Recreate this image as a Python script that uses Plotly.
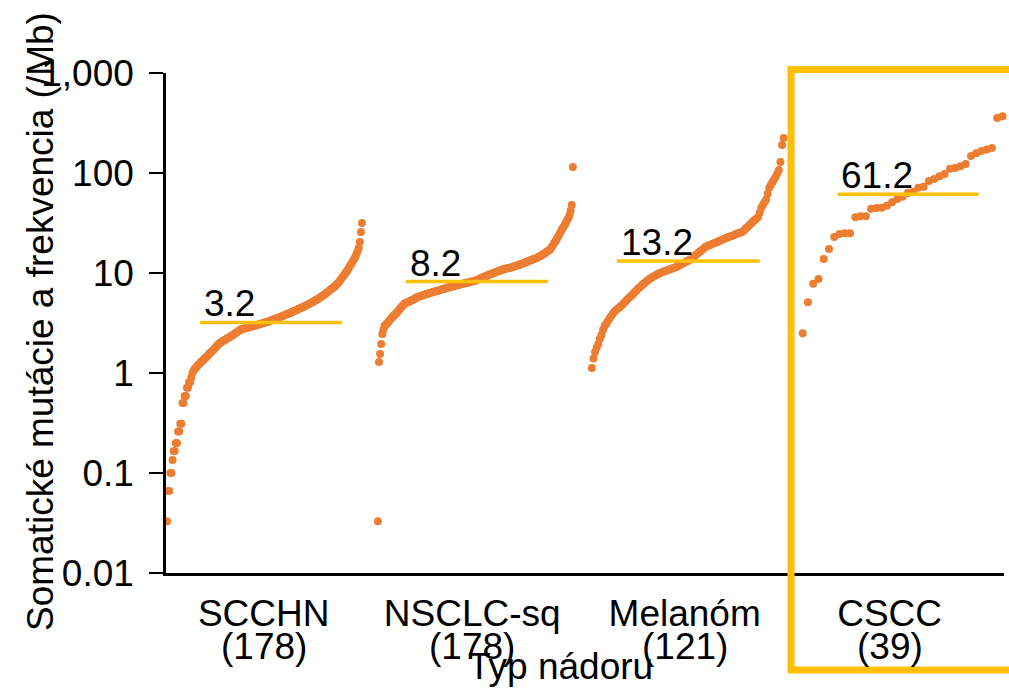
import numpy as np
import plotly.graph_objects as go

# ---------------- data ----------------
categories = ["SCCHN", "NSCLC-sq", "Melanóm", "CSCC"]
medians = [3.2, 8.2, 13.2, 61.2]

scchn = [0.033, 0.066, 0.066, 0.1, 0.1, 0.135, 0.166, 0.166, 0.2, 0.2, 0.26, 0.26,
         0.31, 0.31, 0.5, 0.5, 0.59, 0.59, 0.71, 0.71, 0.81, 0.81, 0.9, 1.0,
         1.05, 1.1, 1.12, 1.15, 1.2, 1.22, 1.25, 1.3, 1.32, 1.35, 1.4, 1.42, 1.45,
         1.5, 1.55, 1.58, 1.62, 1.66, 1.7, 1.75, 1.8, 1.85, 1.9, 1.95, 2.0,
         2.03, 2.06, 2.1, 2.12, 2.15, 2.2, 2.22, 2.25, 2.3, 2.33, 2.36, 2.4, 2.45,
         2.5, 2.54, 2.58, 2.62, 2.7,
         2.72, 2.74, 2.76, 2.78, 2.8, 2.82, 2.84, 2.86, 2.88, 2.9, 2.92, 2.94, 2.96,
         2.98, 3.0, 3.02, 3.05, 3.08, 3.1, 3.12, 3.15, 3.18, 3.2,
         3.22, 3.25, 3.28, 3.3, 3.33, 3.36, 3.4, 3.43, 3.46, 3.5, 3.53, 3.56, 3.6,
         3.64, 3.68, 3.72, 3.76, 3.8, 3.84, 3.88, 3.92, 3.96, 4.0,
         4.05, 4.1, 4.15, 4.2, 4.25, 4.3, 4.35, 4.4, 4.45, 4.5, 4.55, 4.6, 4.66, 4.72, 4.8,
         4.85, 4.9, 4.98, 5.05, 5.1, 5.2, 5.28, 5.35, 5.42, 5.5, 5.6, 5.7, 5.8, 5.9, 6.0,
         6.1, 6.2, 6.35, 6.5, 6.6, 6.75, 6.9, 7.0, 7.15, 7.3, 7.5, 7.7, 7.9,
         8.1, 8.4, 8.7, 9.0, 9.3, 9.6, 10.0, 10.3, 10.7,
         11.2, 11.7, 12.2, 12.7, 13.3, 13.9, 14.5,
         15.5, 16.5, 17.8, 20.4, 25.7, 31.6]

nsclc_sq = [0.033, 1.29, 1.55, 1.95, 2.45, 2.7, 2.95, 3.0, 3.1, 3.2, 3.3, 3.4, 3.5, 3.6,
            3.7, 3.8, 3.9, 4.0, 4.1, 4.25, 4.4, 4.5, 4.65, 4.8,
            4.9, 5.0, 5.05, 5.1, 5.15, 5.2, 5.3, 5.35, 5.4, 5.5, 5.6, 5.65, 5.75,
            5.8, 5.85, 5.9, 5.95, 6.0, 6.05, 6.1, 6.15, 6.2, 6.25, 6.3, 6.35, 6.4, 6.45,
            6.5, 6.55, 6.6, 6.65, 6.7, 6.75, 6.8, 6.85, 6.9, 6.95, 7.0, 7.05, 7.1,
            7.15, 7.2, 7.25, 7.3, 7.35, 7.4, 7.45, 7.5, 7.55, 7.6, 7.65, 7.7, 7.75, 7.8,
            7.85, 7.9, 7.95, 8.0, 8.05, 8.1, 8.15, 8.2, 8.25, 8.3, 8.35, 8.4, 8.5,
            8.6, 8.7, 8.8, 8.9, 9.0, 9.1, 9.2, 9.3, 9.4, 9.5, 9.6, 9.7, 9.8, 9.9, 10.0,
            10.1, 10.2, 10.3, 10.4, 10.5, 10.6, 10.7, 10.8, 10.9, 11.0, 11.05, 11.1,
            11.15, 11.2, 11.25,
            11.35, 11.45, 11.55, 11.65, 11.75, 11.85, 11.95, 12.05, 12.15, 12.3, 12.4,
            12.5, 12.6, 12.75, 12.9, 13.0, 13.15, 13.3, 13.4, 13.55, 13.7, 13.85, 14.0, 14.1,
            14.3, 14.5, 14.7, 14.9, 15.1, 15.4, 15.6, 15.9, 16.2, 16.5, 16.8, 17.0,
            17.6, 18.3, 19.0, 19.8, 20.6, 21.4,
            22.5, 23.5, 24.5, 25.8, 27.0,
            28.3, 29.5, 30.8, 32.3, 33.8, 35.5,
            38.0, 42.0, 48.0, 115.0]

melanom = [1.12, 1.4, 1.62, 1.8, 1.95, 2.2, 2.4, 2.7, 2.95, 3.1, 3.3, 3.5, 3.7, 3.9,
           4.1, 4.25, 4.4, 4.5, 4.65, 4.8, 5.0, 5.2, 5.4, 5.6, 5.8, 6.0, 6.2, 6.5, 6.7,
           7.0, 7.2, 7.45, 7.7, 7.95, 8.2, 8.45, 8.7, 8.9, 9.1, 9.3, 9.5, 9.7, 9.9,
           10.05, 10.2, 10.35, 10.5, 10.6, 10.75, 10.9, 11.05, 11.2, 11.35, 11.5, 11.75,
           12.0, 12.25, 12.5, 12.75, 13.0, 13.2, 13.5, 13.8, 14.1, 14.6, 15.1, 15.6,
           16.1, 16.6, 17.1, 17.6, 18.2, 18.5, 18.8, 19.1, 19.4, 19.7, 20.0, 20.3,
           20.6, 21.0, 21.4, 21.7, 22.0, 22.4, 22.7, 23.0, 23.3, 23.6, 24.0, 24.4,
           24.8, 25.1, 25.4, 25.7, 26.5, 27.5, 28.5, 29.5, 30.5, 31.6, 33.0, 34.0,
           35.0, 36.0, 40.0, 45.0, 48.0, 51.0, 54.0, 62.0, 71.0, 76.0, 81.0, 86.0,
           91.0, 99.0, 107.0, 129.0, 190.0, 224.0]

cscc = [2.5, 5.1, 7.8, 8.7, 13.8, 17.4, 22.9, 24.5, 25.0, 25.0, 36.0, 37.0, 37.0,
        44.0, 44.7, 45.0, 47.0, 51.0, 55.0, 58.0, 63.0, 65.0, 71.0, 73.0, 83.0, 87.0,
        93.0, 98.0, 110.0, 112.0, 117.0, 123.0, 148.0, 158.0, 166.0, 172.0, 178.0,
        355.0, 370.0]

series = [scchn, nsclc_sq, melanom, cscc]

y_tickvals = [0.01, 0.1, 1, 10, 100, 1000]
y_ticktext = ["0.01", "0.1", "1", "10", "100", "1,000"]

# ---------------- layout constants ----------------
FONT = "Arial, Liberation Sans, sans-serif"
FS = 37
DOT = "#ED7D31"
GOLD = "#FFC000"
GROUP_START = [0.0, 0.995, 2.005, 3.0]
GROUP_SPAN = [0.92, 0.92, 0.905, 0.943]
MED_X = [(0.156, 0.825), (1.127, 1.797), (2.123, 2.797), (3.165, 3.830)]
LABEL_X = [0.456, 1.44, 2.443, 3.41]

L, R, T, B = 166, 5, 73, 117
W, H = 1009, 690
PW, PH = W - L - R, H - T - B


def px_to_paper_x(px):
    return (px - L) / PW


def px_to_paper_y(py):
    return (H - B - py) / PH


fig = go.Figure()

for g, vals in enumerate(series):
    n = len(vals)
    xs = GROUP_START[g] + np.linspace(0, GROUP_SPAN[g], n)
    fig.add_trace(go.Scatter(x=xs, y=vals, mode="markers",
                             marker=dict(color=DOT, size=8, line=dict(width=0)),
                             showlegend=False, hoverinfo="y", cliponaxis=False))

for g, m in enumerate(medians):
    x0, x1 = MED_X[g]
    fig.add_trace(go.Scatter(x=[x0, x1], y=[m, m], mode="lines",
                             line=dict(color=GOLD, width=3.5),
                             showlegend=False, hoverinfo="skip"))
    fig.add_annotation(x=x0 + 0.008, y=np.log10(m), xref="x", yref="y",
                       text=f"{m}", showarrow=False, xanchor="left", yanchor="bottom",
                       yshift=-4, font=dict(family=FONT, size=FS, color="black"))

for g, vals in enumerate(series):
    fig.add_annotation(x=LABEL_X[g], y=px_to_paper_y(646), xref="x", yref="paper",
                       text=f"({len(vals)})", showarrow=False, xanchor="center",
                       yanchor="middle", font=dict(family=FONT, size=FS, color="black"))

# axis titles
fig.add_annotation(x=px_to_paper_x(560), y=px_to_paper_y(666), xref="paper", yref="paper",
                   text="Typ nádoru", showarrow=False, xanchor="center", yanchor="middle",
                   font=dict(family=FONT, size=FS, color="black"))
fig.add_annotation(x=px_to_paper_x(40), y=px_to_paper_y(322), xref="paper", yref="paper",
                   text="Somatické mutácie a frekvencia (/Mb)", textangle=-90,
                   showarrow=False, xanchor="center", yanchor="middle",
                   font=dict(family=FONT, size=FS, color="black"))

# highlight box around CSCC
fig.add_shape(type="rect", xref="paper", yref="paper",
              x0=px_to_paper_x(791), x1=px_to_paper_x(1040),
              y0=px_to_paper_y(670), y1=px_to_paper_y(69.5),
              line=dict(color=GOLD, width=7), fillcolor="rgba(0,0,0,0)", layer="above")

fig.update_layout(
    width=W, height=H,
    margin=dict(l=L, r=R, t=T, b=B, pad=0, autoexpand=False),
    paper_bgcolor="white", plot_bgcolor="white",
    font=dict(family=FONT, size=FS, color="black"),
    showlegend=False,
    xaxis=dict(range=[-0.005, 3.95], tickmode="array", tickvals=LABEL_X,
               ticktext=categories, ticks="", showgrid=False, zeroline=False,
               showline=True, linecolor="black", linewidth=2.5, automargin=False,
               tickfont=dict(family=FONT, size=FS, color="black"),
               ticklabelstandoff=6),
    yaxis=dict(type="log", range=[-2, 3], tickmode="array", tickvals=y_tickvals,
               ticktext=y_ticktext, ticks="outside", ticklen=14, tickwidth=2,
               tickcolor="black", showgrid=False, zeroline=False, automargin=False,
               showline=True, linecolor="black", linewidth=2.5,
               tickfont=dict(family=FONT, size=FS, color="black"),
               ticklabelstandoff=8),
)

fig.write_html("out.html",
               config={"displayModeBar": False},
               post_script="document.body.style.margin='0px';"
                           "document.body.style.overflow='hidden';")
